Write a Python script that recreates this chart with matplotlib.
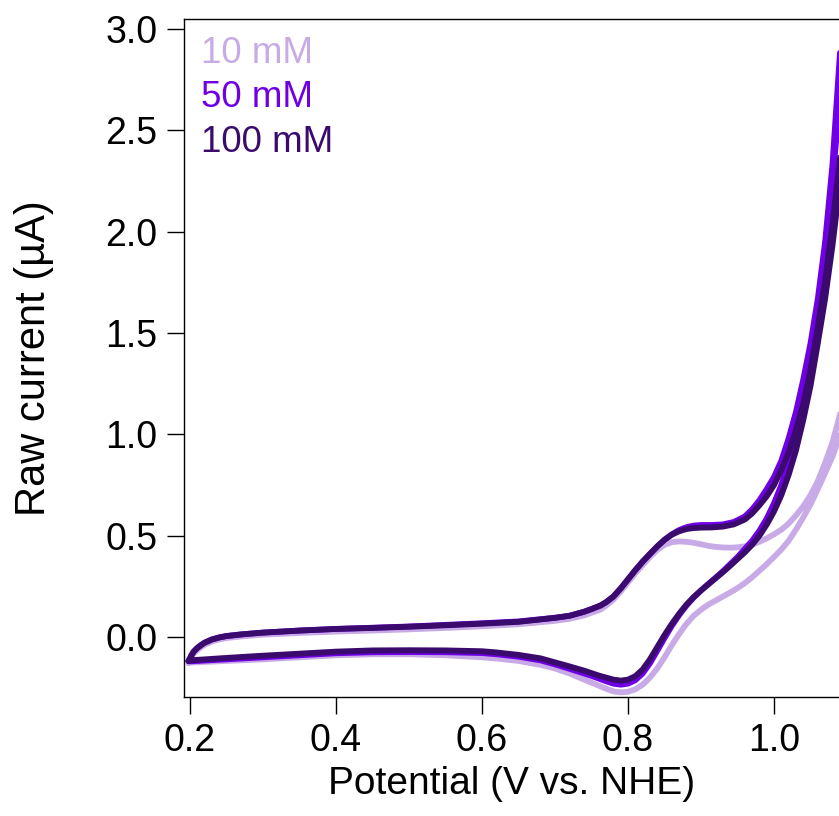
import matplotlib
matplotlib.use('Agg')
import matplotlib.pyplot as plt
from matplotlib.ticker import FormatStrFormatter

plt.rcParams['font.family'] = ['Liberation Sans', 'DejaVu Sans']

# Cyclic voltammograms (potential in V vs NHE, current in µA)
# forward scans, 0.2 V up to the switching potential
fwd_10_x = [0.198, 0.2, 0.202, 0.205, 0.21, 0.215, 0.22, 0.23, 0.24, 0.25, 0.27, 0.3, 0.35, 0.4, 0.45, 0.5,
            0.55, 0.6, 0.65, 0.7, 0.72, 0.74, 0.75, 0.762, 0.77, 0.78, 0.79, 0.8, 0.81, 0.82, 0.83, 0.84,
            0.85, 0.86, 0.87, 0.88, 0.89, 0.9, 0.91, 0.92, 0.93, 0.94, 0.95, 0.96, 0.97, 0.98, 0.99, 1.0,
            1.01, 1.02, 1.03, 1.04, 1.05, 1.06, 1.07, 1.08, 1.089, 1.1]
fwd_10_y = [-0.128, -0.115, -0.1, -0.082, -0.064, -0.05, -0.038, -0.022, -0.012, -0.005, 0.003, 0.012, 0.02, 0.027,
            0.032, 0.038, 0.045, 0.053, 0.063, 0.08, 0.09, 0.107, 0.12, 0.135, 0.155, 0.185, 0.225, 0.27, 0.315,
            0.355, 0.395, 0.43, 0.455, 0.468, 0.472, 0.47, 0.465, 0.458, 0.45, 0.445, 0.442, 0.441, 0.443, 0.448,
            0.457, 0.47, 0.487, 0.507, 0.53, 0.56, 0.6, 0.645, 0.7, 0.77, 0.86, 0.96, 1.08, 1.25]
fwd_50_x = [0.198, 0.2, 0.202, 0.205, 0.21, 0.215, 0.22, 0.23, 0.24, 0.25, 0.27, 0.3, 0.35, 0.4, 0.45, 0.5,
            0.55, 0.6, 0.65, 0.7, 0.72, 0.74, 0.75, 0.762, 0.77, 0.78, 0.79, 0.8, 0.81, 0.82, 0.83, 0.84,
            0.85, 0.86, 0.87, 0.88, 0.89, 0.9, 0.915, 0.93, 0.945, 0.96, 0.97, 0.98, 0.99, 1.0, 1.01, 1.02,
            1.03, 1.04, 1.05, 1.06, 1.07, 1.08, 1.089, 1.1]
fwd_50_y = [-0.118, -0.105, -0.09, -0.072, -0.054, -0.04, -0.028, -0.012, -0.002, 0.005, 0.013, 0.022, 0.032,
            0.04, 0.046, 0.052, 0.06, 0.068, 0.077, 0.095, 0.105, 0.125, 0.138, 0.155, 0.172, 0.2, 0.24, 0.285,
            0.33, 0.372, 0.41, 0.447, 0.48, 0.507, 0.528, 0.542, 0.55, 0.553, 0.553, 0.556, 0.568, 0.595, 0.63,
            0.675, 0.73, 0.79, 0.87, 0.98, 1.11, 1.27, 1.45, 1.67, 1.95, 2.33, 2.81, 3.4]
fwd_100_x = [0.198, 0.2, 0.202, 0.205, 0.21, 0.215, 0.22, 0.23, 0.24, 0.25, 0.27, 0.3, 0.35, 0.4, 0.45, 0.5,
             0.55, 0.6, 0.65, 0.7, 0.72, 0.74, 0.75, 0.762, 0.77, 0.78, 0.79, 0.8, 0.81, 0.82, 0.83, 0.84,
             0.85, 0.86, 0.87, 0.88, 0.89, 0.9, 0.915, 0.93, 0.945, 0.96, 0.97, 0.98, 0.99, 1.0, 1.01, 1.02,
             1.03, 1.04, 1.05, 1.06, 1.07, 1.08, 1.089, 1.1]
fwd_100_y = [-0.118, -0.105, -0.09, -0.072, -0.054, -0.04, -0.028, -0.012, -0.002, 0.005, 0.013, 0.022, 0.032,
             0.04, 0.045, 0.051, 0.058, 0.066, 0.075, 0.095, 0.105, 0.125, 0.138, 0.155, 0.172, 0.2, 0.24, 0.285,
             0.33, 0.372, 0.41, 0.447, 0.48, 0.505, 0.522, 0.533, 0.538, 0.54, 0.541, 0.545, 0.556, 0.58, 0.61,
             0.65, 0.695, 0.75, 0.825, 0.91, 1.02, 1.15, 1.32, 1.53, 1.76, 2.03, 2.32, 2.7]

# reverse scans, switching potential back down to 0.2 V
rev_10_x = [1.1, 1.089, 1.08, 1.07, 1.06, 1.05, 1.04, 1.03, 1.02, 1.01, 1.0, 0.99, 0.98, 0.97, 0.96, 0.95,
            0.94, 0.93, 0.92, 0.91, 0.9, 0.89, 0.88, 0.87, 0.86, 0.85, 0.84, 0.83, 0.82, 0.81, 0.8, 0.79,
            0.78, 0.77, 0.76, 0.75, 0.74, 0.72, 0.7, 0.68, 0.65, 0.62, 0.6, 0.55, 0.5, 0.45, 0.4, 0.35, 0.3,
            0.25, 0.2, 0.198]
rev_10_y = [1.12, 0.98, 0.89, 0.81, 0.73, 0.655, 0.59, 0.53, 0.475, 0.432, 0.395, 0.36, 0.327, 0.295, 0.266,
            0.242, 0.22, 0.2, 0.18, 0.16, 0.135, 0.105, 0.065, 0.015, -0.04, -0.1, -0.155, -0.2, -0.235,
            -0.258, -0.27, -0.273, -0.268, -0.255, -0.24, -0.225, -0.21, -0.18, -0.155, -0.137, -0.118, -0.106,
            -0.1, -0.09, -0.085, -0.085, -0.09, -0.1, -0.11, -0.118, -0.126, -0.128]
rev_50_x = [1.1, 1.089, 1.08, 1.07, 1.06, 1.05, 1.04, 1.03, 1.02, 1.01, 1.0, 0.99, 0.98, 0.97, 0.96, 0.95,
            0.94, 0.93, 0.92, 0.91, 0.9, 0.89, 0.88, 0.87, 0.86, 0.85, 0.84, 0.83, 0.82, 0.81, 0.8, 0.79,
            0.78, 0.77, 0.76, 0.75, 0.74, 0.72, 0.7, 0.68, 0.65, 0.62, 0.6, 0.55, 0.5, 0.45, 0.4, 0.35, 0.3,
            0.25, 0.2, 0.198]
rev_50_y = [3.0, 2.6, 2.25, 1.92, 1.63, 1.38, 1.17, 1.0, 0.86, 0.75, 0.66, 0.585, 0.525, 0.475, 0.435, 0.395,
            0.36, 0.325, 0.293, 0.262, 0.23, 0.195, 0.155, 0.108, 0.055, -0.005, -0.068, -0.13, -0.18, -0.213,
            -0.23, -0.235, -0.23, -0.218, -0.205, -0.192, -0.18, -0.157, -0.135, -0.115, -0.097, -0.085, -0.079,
            -0.075, -0.074, -0.075, -0.08, -0.09, -0.1, -0.11, -0.12, -0.118]
rev_100_x = [1.1, 1.089, 1.08, 1.07, 1.06, 1.05, 1.04, 1.03, 1.02, 1.01, 1.0, 0.99, 0.98, 0.97, 0.96, 0.95,
             0.94, 0.93, 0.92, 0.91, 0.9, 0.89, 0.88, 0.87, 0.86, 0.85, 0.84, 0.83, 0.82, 0.81, 0.8, 0.79,
             0.78, 0.77, 0.76, 0.75, 0.74, 0.72, 0.7, 0.68, 0.65, 0.62, 0.6, 0.55, 0.5, 0.45, 0.4, 0.35, 0.3,
             0.25, 0.2, 0.198]
rev_100_y = [2.55, 2.2, 1.93, 1.67, 1.45, 1.24, 1.07, 0.92, 0.8, 0.7, 0.62, 0.555, 0.5, 0.455, 0.418, 0.385,
             0.352, 0.32, 0.29, 0.26, 0.23, 0.198, 0.16, 0.115, 0.065, 0.01, -0.05, -0.11, -0.16, -0.193, -0.21,
             -0.215, -0.21, -0.2, -0.19, -0.178, -0.166, -0.145, -0.125, -0.105, -0.088, -0.076, -0.07, -0.066,
             -0.065, -0.066, -0.072, -0.082, -0.092, -0.103, -0.115, -0.118]

labels = ['10 mM', '50 mM', '100 mM']
colors = ['#c8abe6', '#7000e4', '#3a0a6c']

fig = plt.figure(figsize=(8.39, 8.16), dpi=100)
ax = fig.add_axes([0.2193, 0.1458, 0.7807, 0.8309])

curves = [(fwd_10_x, fwd_10_y, rev_10_x, rev_10_y),
          (fwd_50_x, fwd_50_y, rev_50_x, rev_50_y),
          (fwd_100_x, fwd_100_y, rev_100_x, rev_100_y)]
for (fx, fy, rx, ry), lab, col in zip(curves, labels, colors):
    ax.plot(fx + rx, fy + ry, color=col, lw=4.2, label=lab,
            solid_capstyle='round', solid_joinstyle='round')

ax.set_xlim(0.1918, 1.089)
ax.set_ylim(-0.296, 3.05)
ax.set_xticks([0.2, 0.4, 0.6, 0.8, 1.0])
ax.set_yticks([0.0, 0.5, 1.0, 1.5, 2.0, 2.5, 3.0])
ax.xaxis.set_major_formatter(FormatStrFormatter('%.1f'))
ax.yaxis.set_major_formatter(FormatStrFormatter('%.1f'))
ax.tick_params(direction='out', length=12, width=1, labelsize=27, pad=7)
ax.spines['right'].set_visible(False)
for s in ['left', 'bottom', 'top']:
    ax.spines[s].set_linewidth(1)

ax.set_xlabel('Potential (V vs. NHE)', fontsize=28, labelpad=5)
ax.set_ylabel('Raw current (µA)', fontsize=30, labelpad=37)

ax.legend(loc='upper left', frameon=False, fontsize=26.5, handlelength=0, handletextpad=0,
          labelcolor='linecolor', borderaxespad=0.1, borderpad=0.35, labelspacing=0.26)

fig.savefig('out.png', dpi=100)
